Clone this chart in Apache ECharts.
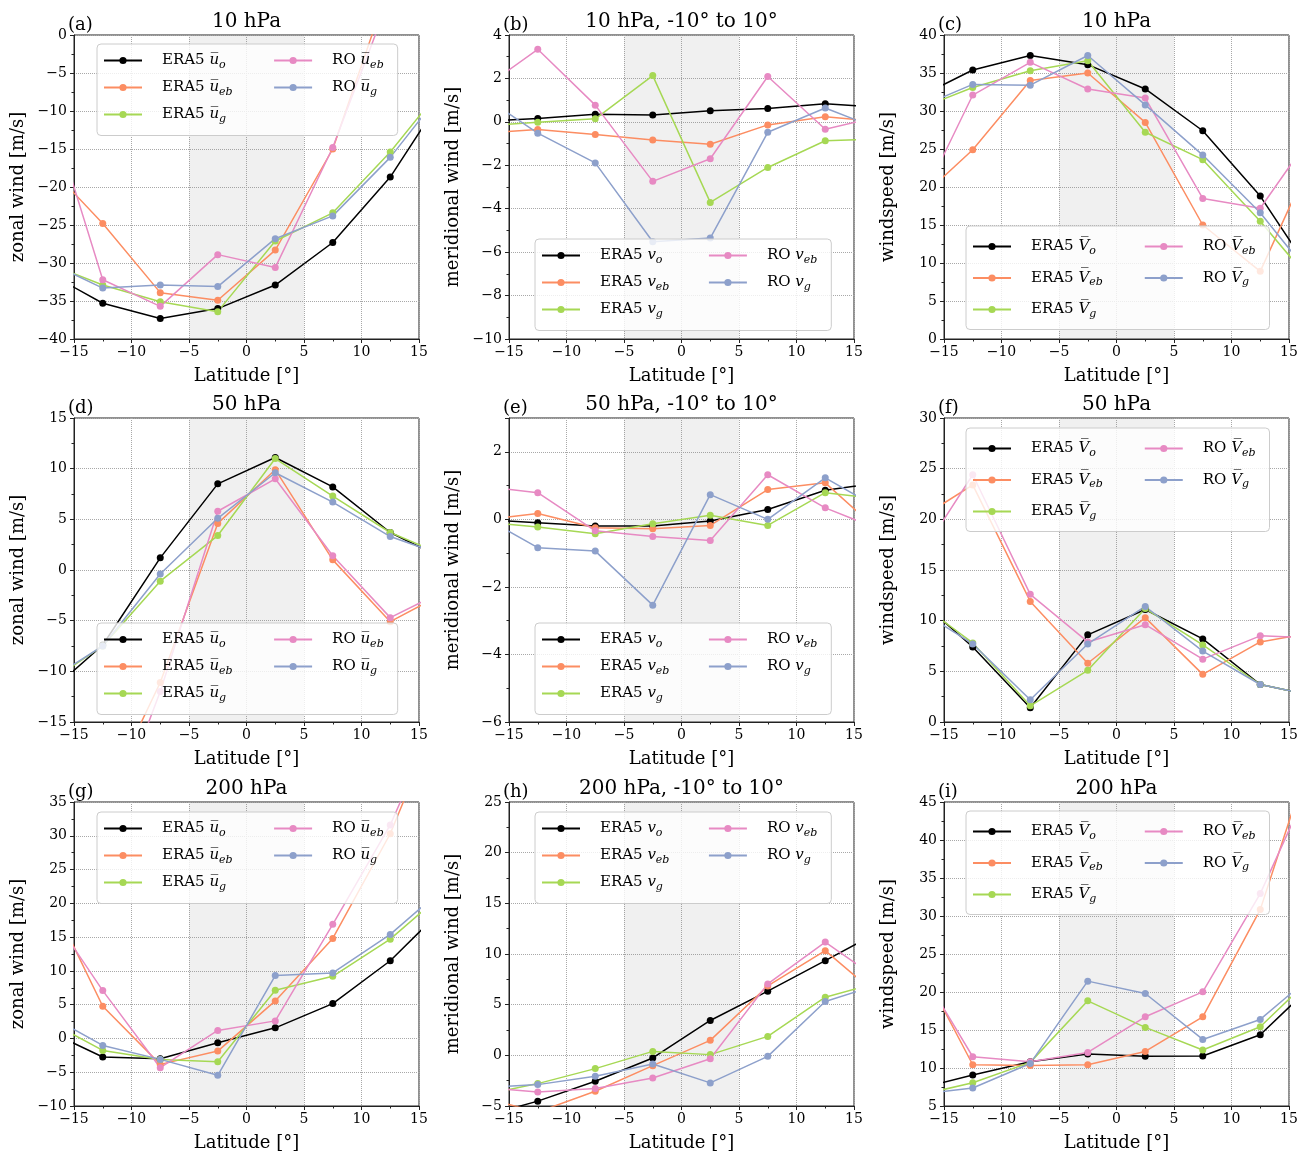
<!DOCTYPE html>
<html><head><meta charset="utf-8">
<script src="https://cdn.jsdelivr.net/npm/echarts@6/dist/echarts.min.js"></script>
<style>html,body{margin:0;padding:0;background:#fff}#c{width:1306px;height:1153px}</style>
</head><body><div id="c"></div>
<script>
// Latitudes of the points (first and last lie outside the shown range and are clipped)
const LAT = [-17.5, -12.5, -7.5, -2.5, 2.5, 7.5, 12.5, 17.5];

// (a) 10 hPa zonal wind
const a_uo     = [-31.1, -35.3, -37.3, -36.0, -32.9, -27.3, -18.7, -7.1];
const a_ueb    = [-16.8, -24.8, -33.9, -34.9, -28.3, -15.0, 7.0, 25];
const a_ug     = [-29.9, -32.9, -35.1, -36.4, -27.1, -23.4, -15.4, -6.0];
const a_ro_ueb = [-7.8, -32.2, -35.7, -28.9, -30.6, -14.8, 5.2, 25];
const a_ro_ug  = [-29.7, -33.3, -32.9, -33.1, -26.8, -23.8, -16.1, -6.5];
// (b) 10 hPa meridional wind
const b_vo     = [0.03, 0.15, 0.35, 0.32, 0.51, 0.61, 0.83, 0.67];
const b_veb    = [-0.53, -0.35, -0.58, -0.83, -1.03, -0.14, 0.23, 0.01];
const b_vg     = [-0.2, -0.02, 0.14, 2.13, -3.71, -2.1, -0.87, -0.79];
const b_ro_veb = [1.44, 3.34, 0.77, -2.74, -1.7, 2.09, -0.34, 0.28];
const b_ro_vg  = [1.26, -0.52, -1.89, -5.52, -5.35, -0.48, 0.64, -0.4];
// (c) 10 hPa windspeed
const c_Vo     = [31.6, 35.4, 37.3, 36.1, 32.9, 27.4, 18.8, 7.4];
const c_Veb    = [17.9, 24.9, 34.0, 35.0, 28.5, 15.0, 8.9, 25.5];
const c_Vg     = [30.1, 33.1, 35.3, 36.6, 27.2, 23.6, 15.5, 6.5];
const c_ro_Veb = [16.5, 32.1, 36.4, 32.9, 31.7, 18.5, 17.2, 28.0];
const c_ro_Vg  = [30.3, 33.5, 33.4, 37.3, 30.8, 24.2, 16.6, 7.2];
// (d) 50 hPa zonal wind
const d_uo     = [-12.4, -7.4, 1.2, 8.5, 11.1, 8.2, 3.7, 0.9];
const d_ueb    = [-30, -23, -11.1, 4.6, 9.9, 1.0, -5.1, -2.1];
const d_ug     = [-11.3, -7.5, -1.1, 3.4, 11.0, 7.3, 3.7, 1.3];
const d_ro_ueb = [-35, -27, -12.0, 5.8, 9.0, 1.4, -4.7, -1.9];
const d_ro_ug  = [-11.1, -7.5, -0.4, 5.1, 9.6, 6.7, 3.3, 1.3];
// (e) 50 hPa meridional wind
const e_vo     = [0.0, -0.1, -0.2, -0.2, -0.05, 0.29, 0.86, 1.1];
const e_veb    = [-0.03, 0.17, -0.25, -0.28, -0.18, 0.88, 1.08, -0.45];
const e_vg     = [-0.07, -0.23, -0.43, -0.13, 0.12, -0.18, 0.79, 0.59];
const e_ro_veb = [0.99, 0.79, -0.34, -0.51, -0.63, 1.32, 0.34, -0.34];
const e_ro_vg  = [0.12, -0.84, -0.94, -2.54, 0.73, 0.0, 1.23, 0.25];
// (f) 50 hPa windspeed
const f_Vo     = [12.4, 7.4, 1.4, 8.6, 11.1, 8.2, 3.7, 2.5];
const f_Veb    = [19.8, 23.4, 11.9, 5.8, 10.3, 4.7, 7.9, 8.9];
const f_Vg     = [12.0, 7.8, 1.6, 5.1, 11.2, 7.6, 3.7, 2.5];
const f_ro_Veb = [15.6, 24.4, 12.6, 7.9, 9.6, 6.2, 8.5, 8.3];
const f_ro_Vg  = [11.3, 7.7, 2.2, 7.7, 11.4, 7.0, 3.7, 2.5];
// (g) 200 hPa zonal wind
const g_uo     = [1.3, -2.75, -3.0, -0.64, 1.57, 5.16, 11.5, 19.9];
const g_ueb    = [22.3, 4.77, -3.84, -1.87, 5.56, 14.8, 30.3, 51];
const g_ug     = [2.8, -1.77, -3.1, -3.44, 7.13, 9.2, 14.7, 22.1];
const g_ro_ueb = [19.7, 7.08, -4.33, 1.18, 2.6, 16.9, 31.6, 51];
const g_ro_ug  = [3.7, -1.03, -3.1, -5.46, 9.3, 9.7, 15.4, 22.8];
// (h) 200 hPa meridional wind
const h_vo     = [-6.1, -4.52, -2.56, -0.26, 3.44, 6.33, 9.34, 12.4];
const h_veb    = [-4.1, -5.6, -3.54, -1.02, 1.48, 6.85, 10.33, 5.5];
const h_vg     = [-3.97, -2.79, -1.31, 0.39, 0.07, 1.87, 5.74, 7.3];
const h_ro_veb = [-3.15, -3.61, -3.28, -2.23, -0.33, 7.05, 11.18, 7.2];
const h_ro_vg  = [-3.2, -2.89, -2.07, -0.85, -2.72, -0.1, 5.31, 7.1];
// (i) 200 hPa windspeed
const i_Vo     = [7.2, 9.07, 10.83, 11.83, 11.53, 11.57, 14.37, 21.6];
const i_Veb    = [24.8, 10.43, 10.34, 10.43, 12.18, 16.74, 30.84, 54];
const i_Vg     = [6.3, 8.07, 10.74, 18.84, 15.34, 12.36, 15.42, 22.7];
const i_ro_Veb = [24.1, 11.48, 10.83, 12.05, 16.74, 20.02, 32.95, 49.6];
const i_ro_Vg  = [6.5, 7.37, 10.6, 21.43, 19.8, 13.76, 16.39, 22.8];

// Series names per quantity
const U_NAMES = ['ERA5 u_o', 'ERA5 u_eb', 'ERA5 u_g', 'RO u_eb', 'RO u_g'];
const V_NAMES = ['ERA5 v_o', 'ERA5 v_eb', 'ERA5 v_g', 'RO v_eb', 'RO v_g'];
const S_NAMES = ['ERA5 V_o', 'ERA5 V_eb', 'ERA5 V_g', 'RO V_eb', 'RO V_g'];

// Panel titles and axis labels
const LETTERS = ['(a)', '(b)', '(c)', '(d)', '(e)', '(f)', '(g)', '(h)', '(i)'];
const TITLES = ['10 hPa', '10 hPa, -10° to 10°', '10 hPa', '50 hPa', '50 hPa, -10° to 10°', '50 hPa',
  '200 hPa', '200 hPa, -10° to 10°', '200 hPa'];
const YLABELS = ['zonal wind [m/s]', 'meridional wind [m/s]', 'windspeed [m/s]'];
const XLABEL = 'Latitude [°]';
// y axis [min, max, interval] per panel
const Y_MIN = [-40, -10, 0, -15, -6, 0, -10, -5, 5];
const Y_MAX = [0, 4, 40, 15, 3, 30, 35, 25, 45];
const Y_STEP = [5, 2, 5, 5, 2, 5, 5, 5, 5];
const X_MIN = -15, X_MAX = 15, X_STEP = 5;

const PANEL_DATA = [
  [a_uo, a_ueb, a_ug, a_ro_ueb, a_ro_ug],
  [b_vo, b_veb, b_vg, b_ro_veb, b_ro_vg],
  [c_Vo, c_Veb, c_Vg, c_ro_Veb, c_ro_Vg],
  [d_uo, d_ueb, d_ug, d_ro_ueb, d_ro_ug],
  [e_vo, e_veb, e_vg, e_ro_veb, e_ro_vg],
  [f_Vo, f_Veb, f_Vg, f_ro_Veb, f_ro_Vg],
  [g_uo, g_ueb, g_ug, g_ro_ueb, g_ro_ug],
  [h_vo, h_veb, h_vg, h_ro_veb, h_ro_vg],
  [i_Vo, i_Veb, i_Vg, i_ro_Veb, i_ro_Vg]
];
const COL_NAMES = [U_NAMES, V_NAMES, S_NAMES];
const COLORS = ['#000000', '#fc8d62', '#a6d854', '#e78ac3', '#8da0cb'];

// Layout
const COL_LEFT = [74, 509, 944];
const ROW_TOP = [35, 418, 802];
const GW = 345, GH = 304;
const LEG_LEFT = [97, 535, 966];
const LEG_TOP = [44, 239, 226, 623, 623, 428, 812, 812, 811];
const LEG_COL1_PADR = [31, 29, 27];

const FONT = 'DejaVu Serif';
const AX = '#222';
const minus = v => (v < 0 ? '\u2212' + (-v) : String(v));

function makeLegendLabel(col) {
  return function (name) {
    const parts = name.split(' ');
    const prefix = parts[0];
    const sym = parts[1].split('_')[0];
    const sub = parts[1].split('_')[1];
    const s = sym === 'v' ? 'v' : sym + '\u0305';
    const rp = prefix === 'ERA5' ? 'r' + col : 'r9';
    return '{lp| }{t|' + prefix + ' }{m|' + s + '}{s|' + sub + '}{' + rp + '| }';
  };
}

const grid = [], xAxis = [], yAxis = [], series = [], title = [], legend = [];
for (let p = 0; p < 9; p++) {
  const r = Math.floor(p / 3), c = p % 3;
  const left = COL_LEFT[c], top = ROW_TOP[r];
  grid.push({left: left, top: top, width: GW, height: GH, show: true,
    borderColor: AX, borderWidth: 1, backgroundColor: 'transparent'});
  const axCommon = {
    gridIndex: p, type: 'value', nameLocation: 'middle',
    nameTextStyle: {fontFamily: FONT, fontSize: 18, color: '#000'},
    axisLine: {show: true, onZero: false, lineStyle: {color: AX, width: 1}},
    axisTick: {show: true, length: 4, lineStyle: {color: AX}},
    minorTick: {show: true, splitNumber: 2, length: 2.5, lineStyle: {color: AX}},
    splitLine: {show: true, lineStyle: {type: 'dotted', color: '#a8a8a8', width: 1}},
    axisLabel: {fontFamily: FONT, fontSize: 14, color: '#000', formatter: minus}
  };
  xAxis.push(Object.assign({}, axCommon, {
    min: X_MIN, max: X_MAX, interval: X_STEP, name: XLABEL, nameGap: 28,
    axisLabel: Object.assign({}, axCommon.axisLabel, {margin: 6})
  }));
  yAxis.push(Object.assign({}, axCommon, {
    min: Y_MIN[p], max: Y_MAX[p], interval: Y_STEP[p], name: YLABELS[c], nameGap: 47,
    axisLabel: Object.assign({}, axCommon.axisLabel, {margin: 7, showMaxLabel: Y_MAX[p] % Y_STEP[p] === 0})
  }));
  const names = COL_NAMES[c];
  PANEL_DATA[p].forEach((arr, k) => {
    const s = {
      type: 'line', name: names[k], xAxisIndex: p, yAxisIndex: p,
      data: LAT.map((x, j) => [x, arr[j]]),
      symbol: 'circle', symbolSize: 7, clip: true,
      lineStyle: {color: COLORS[k], width: 1.5},
      itemStyle: {color: COLORS[k]},
      emphasis: {disabled: true}, z: 2
    };
    if (k === 0) {
      s.markArea = {silent: true, itemStyle: {color: 'rgba(128,128,128,0.12)'},
        data: [[{xAxis: -5}, {xAxis: 5}]]};
    }
    series.push(s);
  });
  title.push({text: TITLES[p], left: left + GW / 2, top: top - 23, textAlign: 'center', padding: 0,
    textStyle: {fontFamily: FONT, fontSize: 20, fontWeight: 'normal', color: '#000'}});
  title.push({text: LETTERS[p], left: left - 6, top: top - 19, padding: 0,
    textStyle: {fontFamily: FONT, fontSize: 18, fontWeight: 'normal', color: '#000'}});
  const isS = c === 2;
  const gap = isS ? 14 : 9.5;
  const rich = {
    lp: {width: 15, fontSize: 15, lineHeight: 20},
    t: {fontFamily: FONT, fontSize: 15, color: '#000', lineHeight: 20},
    m: {fontFamily: FONT, fontStyle: 'italic', fontSize: 15, color: '#000', lineHeight: 20},
    s: {fontFamily: FONT, fontStyle: 'italic', fontSize: 11, color: '#000', lineHeight: 11, verticalAlign: 'bottom'},
    r9: {width: 8, fontSize: 15, lineHeight: 20}
  };
  rich['r' + c] = {width: LEG_COL1_PADR[c], fontSize: 15, lineHeight: 20};
  legend.push({
    left: LEG_LEFT[c], top: LEG_TOP[p], orient: 'vertical', height: 90,
    itemGap: gap, itemWidth: 38, itemHeight: 9, selectedMode: false,
    padding: isS ? [13, 6, 10, 6] : [9, 6, 11, 6],
    backgroundColor: 'rgba(255,255,255,0.8)', borderColor: '#cccccc', borderWidth: 1, borderRadius: 4,
    formatter: makeLegendLabel(c),
    textStyle: {fontFamily: FONT, color: '#000', rich: rich},
    data: names.slice()
  });
}

const chart = echarts.init(document.getElementById('c'), null, {renderer: 'canvas'});
chart.setOption({
  animation: false, backgroundColor: '#fff',
  textStyle: {fontFamily: FONT},
  grid, xAxis, yAxis, series, title, legend
});
</script></body></html>
